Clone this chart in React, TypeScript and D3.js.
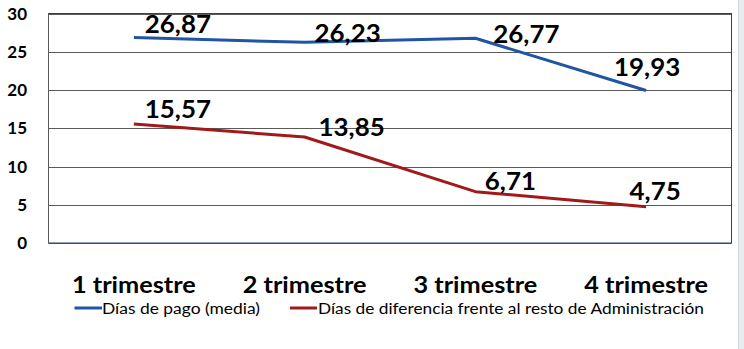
import React from "react";
import * as d3 from "d3";

const categories = ["1 trimestre", "2 trimestre", "3 trimestre", "4 trimestre"];
const diasPago = [26.87, 26.23, 26.77, 19.93];
const diasDiferencia = [15.57, 13.85, 6.71, 4.75];
const yTicks = [0, 5, 10, 15, 20, 25, 30];
const seriesNames = ["Días de pago (media)", "Días de diferencia frente al resto de Administración"];

// label offsets (dx, dy) relative to each point, as in the reference
const blueLabelOffsets = [[44, -13], [43, -9], [51, -4], [1, -23]];
const redLabelOffsets = [[44, -15], [47, -10], [35, -10], [9, -15]];

const W = 744, H = 349;
const M = { left: 48.5, right: 731.5, top: 13.5, bottom: 243 };
const FONT = "Lato, 'Open Sans', sans-serif";

function fmt(v: number) {
  return v.toFixed(2).replace(".", ",");
}

function SText(props: { x: number; y: number; sx?: number; children: any; [k: string]: any }) {
  const { x, y, sx = 1.1, children, ...rest } = props;
  return (
    <text transform={`translate(${x},${y}) scale(${sx},1)`} {...rest}>
      {children}
    </text>
  );
}

export default function App() {
  const x = d3.scaleBand<string>().domain(categories).range([M.left, M.right]);
  const y = d3.scaleLinear().domain([0, 30]).range([M.bottom, M.top]);
  const cx = (c: string) => (x(c) as number) + x.bandwidth() / 2;
  const line = d3
    .line<number>()
    .x((_, i) => cx(categories[i]))
    .y((d) => y(d));

  const series = [
    { values: diasPago, color: "#2154A5", offsets: blueLabelOffsets },
    { values: diasDiferencia, color: "#A11A1A", offsets: redLabelOffsets },
  ];

  return (
    <svg width={W} height={H} style={{ position: "absolute", left: 0, top: 0, background: "#fff" }}>
      <rect x={0} y={0} width={W} height={H} fill="#fff" />
      <rect x={738} y={0} width={6} height={H} fill="#e9ecf1" />
      <line x1={738.5} x2={738.5} y1={0} y2={H} stroke="#cfd5de" />
      {/* gridlines */}
      {yTicks.map((t) => (
        <line key={t} x1={M.left} x2={M.right} y1={Math.round(y(t)) + 0.5} y2={Math.round(y(t)) + 0.5} stroke="#5a5a5a" strokeWidth={1} />
      ))}
      <rect x={M.left} y={M.top} width={M.right - M.left} height={M.bottom - M.top} fill="none" stroke="#23407a" strokeWidth={1} />
      <line x1={M.left} x2={M.left} y1={M.top} y2={M.bottom} stroke="#5a5a5a" strokeWidth={1} />
      {/* y tick labels */}
      {yTicks.map((t) => (
        <text key={t} x={27} y={y(t)} dy="0.36em" textAnchor="end" fontFamily={FONT} fontWeight={700} fontSize={17} fill="#000">
          {t}
        </text>
      ))}
      {/* lines */}
      {series.map((s, si) => (
        <path key={si} d={line(s.values) || ""} fill="none" stroke={s.color} strokeWidth={3} strokeLinejoin="round" />
      ))}
      {/* data labels */}
      {series.map((s, si) =>
        s.values.map((v, i) => (
          <SText
            key={`${si}-${i}`}
            x={cx(categories[i]) + s.offsets[i][0]}
            y={y(v) + s.offsets[i][1]}
            dy="0.36em"
            textAnchor="middle"
            fontFamily={FONT}
            fontWeight={700}
            fontSize={24}
            fill="#000"
            sx={1.08}
          >
            {fmt(v)}
          </SText>
        ))
      )}
      {/* category labels */}
      {categories.map((c) => (
        <SText key={c} x={cx(c)} y={293} textAnchor="middle" fontFamily={FONT} fontWeight={700} fontSize={22} fill="#000" sx={1.15}>
          {c}
        </SText>
      ))}
      {/* legend */}
      <g>
        <line x1={74.5} x2={102} y1={308} y2={308} stroke={series[0].color} strokeWidth={3} />
        <SText x={102} y={308} dy="0.36em" fontFamily={FONT} fontSize={16} fill="#000" sx={1.09}>
          {seriesNames[0]}
        </SText>
        <line x1={290} x2={317} y1={308} y2={308} stroke={series[1].color} strokeWidth={3} />
        <SText x={318} y={308} dy="0.36em" fontFamily={FONT} fontSize={16} fill="#000" sx={1.08}>
          {seriesNames[1]}
        </SText>
      </g>
    </svg>
  );
}
